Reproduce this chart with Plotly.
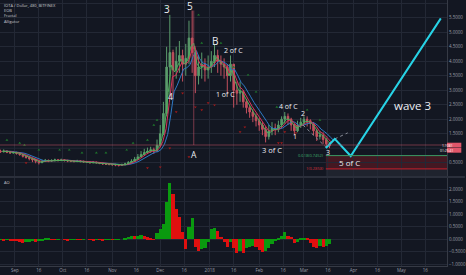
import plotly.graph_objects as go
import pandas as pd

# ---------------- data ----------------
start_date = "2017-08-23"
n_bars = 104
dates = pd.date_range(start_date, periods=n_bars, freq="2D")

closes = [0.88, 0.90, 0.86, 0.84, 0.85, 0.82, 0.78, 0.72, 0.68, 0.64,
          0.60, 0.55, 0.50, 0.55, 0.58, 0.56, 0.57, 0.60, 0.58, 0.60,
          0.58, 0.56, 0.55, 0.54, 0.56, 0.55, 0.53, 0.52, 0.50, 0.52,
          0.50, 0.48, 0.46, 0.45, 0.44, 0.43, 0.42, 0.41, 0.43, 0.46,
          0.50, 0.55, 0.62, 0.70, 0.78, 0.85, 0.90, 0.95, 0.90, 1.10,
          1.50, 2.20, 3.80, 4.30, 3.70, 4.00, 4.20, 3.90, 4.10, 4.80,
          4.30, 3.50, 3.80, 3.90, 3.70, 3.80, 4.00, 4.20, 4.00, 3.90,
          3.80, 3.50, 3.90, 3.00, 2.90, 2.95, 2.60, 2.40, 2.25, 2.10,
          1.95, 1.80, 1.65, 1.40, 1.60, 1.70, 1.65, 1.80, 2.00, 2.10,
          2.00, 1.80, 1.60, 1.80, 1.90, 2.00, 1.95, 1.85, 1.60, 1.40,
          1.45, 1.30, 1.15, 1.08]
highs = [0.95, 0.96, 0.93, 0.90, 0.90, 0.88, 0.85, 0.80, 0.74, 0.70,
         0.66, 0.62, 0.58, 0.60, 0.63, 0.61, 0.62, 0.64, 0.63, 0.64,
         0.62, 0.60, 0.59, 0.58, 0.60, 0.59, 0.57, 0.56, 0.55, 0.56,
         0.54, 0.52, 0.50, 0.49, 0.48, 0.47, 0.46, 0.45, 0.47, 0.50,
         0.56, 0.62, 0.70, 0.80, 0.90, 0.98, 1.02, 1.05, 1.02, 1.30,
         1.80, 2.60, 4.50, 5.60, 4.40, 4.50, 4.70, 4.40, 4.60, 5.40,
         5.75, 4.40, 4.20, 4.30, 4.10, 4.20, 4.35, 4.60, 4.40, 4.20,
         4.10, 3.90, 4.20, 3.90, 3.30, 3.30, 3.00, 2.70, 2.50, 2.35,
         2.20, 2.05, 1.90, 1.75, 1.80, 1.90, 1.85, 1.95, 2.10, 2.25,
         2.20, 2.05, 1.85, 1.95, 2.05, 2.10, 2.10, 2.00, 1.90, 1.65,
         1.60, 1.55, 1.35, 1.20]
lows = [0.84, 0.85, 0.83, 0.80, 0.81, 0.78, 0.74, 0.68, 0.64, 0.58,
        0.52, 0.48, 0.44, 0.49, 0.53, 0.52, 0.53, 0.55, 0.54, 0.55,
        0.54, 0.52, 0.52, 0.51, 0.52, 0.51, 0.50, 0.49, 0.47, 0.48,
        0.47, 0.45, 0.43, 0.42, 0.41, 0.40, 0.38, 0.37, 0.39, 0.41,
        0.45, 0.50, 0.55, 0.62, 0.70, 0.76, 0.80, 0.84, 0.80, 0.88,
        1.05, 1.45, 2.10, 2.80, 2.70, 3.40, 3.60, 3.30, 3.50, 3.90,
        3.60, 2.90, 3.20, 3.40, 3.30, 3.40, 3.60, 3.80, 3.60, 3.50,
        3.40, 2.90, 3.30, 2.40, 2.50, 2.60, 2.40, 2.20, 2.05, 1.90,
        1.75, 1.60, 1.45, 1.20, 1.30, 1.45, 1.45, 1.55, 1.70, 1.85,
        1.80, 1.60, 1.45, 1.55, 1.70, 1.80, 1.75, 1.65, 1.45, 1.25,
        1.30, 1.15, 1.02, 1.00]
first_open = 0.90
opens = [first_open] + closes[:-1]

ao_values = [-0.02, -0.03, -0.01, -0.03, -0.04, -0.08, -0.12, -0.15, -0.12, -0.10,
             -0.08, -0.10, -0.06, -0.03, 0.02, 0.03, 0.01, -0.02, 0.01, 0.00,
             -0.02, -0.03, -0.01, 0.01, -0.01, -0.02, 0.01, 0.00, -0.02, -0.03,
             -0.01, -0.02, -0.03, -0.02, -0.01, -0.02, -0.02, -0.01, 0.00, 0.05,
             0.10, 0.14, 0.12, 0.15, 0.17, 0.12, 0.08, 0.02, -0.02, 0.25,
             0.40, 0.60, 1.50, 2.25, 1.80, 1.20, 0.90, 0.30, -0.40, 0.50,
             0.85, -0.30, -0.45, -0.40, -0.35, -0.10, 0.40, 0.45, 0.35, 0.10,
             -0.10, -0.30, -0.10, -0.35, -0.55, -0.45, -0.55, -0.35, -0.30, -0.28,
             -0.30, -0.42, -0.50, -0.45, -0.35, -0.20, -0.05, 0.03, 0.15, 0.28,
             0.15, 0.10, -0.15, -0.10, 0.05, 0.07, 0.05, -0.15, -0.30, -0.35,
             -0.25, -0.30, -0.25, -0.20]

# fractal markers
frac_up_dates = ["2017-08-27", "2017-09-04", "2017-09-07", "2017-09-16", "2017-09-29",
                 "2017-10-05", "2017-10-13", "2017-10-22", "2017-10-28", "2017-11-10",
                 "2017-11-14", "2017-11-23", "2017-11-27", "2017-11-29", "2017-12-05",
                 "2017-12-25", "2017-12-27", "2018-01-08", "2018-01-16", "2018-01-25",
                 "2018-01-30", "2018-02-12", "2018-03-03", "2018-03-11"]
frac_up_prices = [1.28, 1.18, 1.11, 0.94, 0.94, 0.94, 0.84, 0.84, 0.84, 0.94,
                  1.18, 1.28, 1.80, 1.97, 5.85, 5.60, 4.63, 4.63, 3.80, 3.53,
                  2.94, 2.42, 2.32, 1.97]
frac_dn_dates = ["2017-09-08", "2017-11-23", "2017-12-01", "2017-12-07", "2017-12-11",
                 "2017-12-15", "2017-12-19", "2017-12-23", "2017-12-27", "2017-12-31",
                 "2018-01-04", "2018-01-20", "2018-01-23", "2018-02-13", "2018-02-15",
                 "2018-02-17", "2018-02-24"]
frac_dn_prices = [0.49, 0.32, 0.35, 1.00, 2.25, 2.90, 0.70, 2.42, 2.32, 2.56,
                  2.49, 1.56, 1.73, 1.18, 1.18, 1.56, 1.53]

# projection path (wave drawing)
proj_dates = ["2018-03-14 17:00", "2018-03-20 07:00", "2018-03-30 07:00", "2018-05-25 17:00"]
proj_prices = [1.01, 1.32, 0.73, 5.48]
dot1_dates = ["2018-02-28 10:00", "2018-03-14 17:00"]
dot1_prices = [1.80, 1.04]
dot2_dates = ["2018-03-20 07:00", "2018-03-28 10:00"]
dot2_prices = [1.32, 1.53]

fib_start = "2018-03-14 17:00"
fib_618 = 0.7452
fib_1 = 0.2858
last_price = 1.111
last_price_text = "1.1081"
countdown_text = "01:25:41"
vline_date = "2017-12-22 00:00"
vline_top = 5.75

wave_labels = ["3", "5", "4", "A", "B", "2 of C", "1 of C", "4 of C", "2", "1",
               "3 of C", "3", "5 of C", "wave 3"]
wave_dates = ["2017-12-05 03:00", "2017-12-19 17:00", "2017-12-07 03:00", "2017-12-22 10:00",
              "2018-01-04 12:00", "2018-01-15 22:00", "2018-01-11 02:00", "2018-02-19 02:00",
              "2018-02-28 10:00", "2018-02-23 07:00", "2018-02-08 17:00", "2018-03-16 00:00",
              "2018-03-29 12:00", "2018-05-07 19:00"]
wave_prices = [5.80, 5.90, 2.77, 0.79, 4.71, 4.37, 2.86, 2.43, 2.20, 1.40,
               0.94, 0.86, 0.50, 2.49]
wave_sizes = [10, 10, 8.5, 8.5, 10, 7, 7, 7, 7, 7, 7.5, 7, 8, 11.5]

price_ticks = [0.5, 1.5, 2.0, 2.5, 3.0, 3.5, 4.0, 4.5, 5.0, 5.5, 6.0]
hidden_grid_price = 1.0
ao_ticks = [-1.0, -0.5, 0.0, 0.5, 1.0, 1.5, 2.0]
month_ticks = ["2017-09-01", "2017-09-16", "2017-10-01", "2017-10-16", "2017-11-01",
               "2017-11-16", "2017-12-01", "2017-12-16", "2018-01-01", "2018-01-16",
               "2018-02-01", "2018-02-16", "2018-03-01", "2018-03-16", "2018-04-01",
               "2018-04-16", "2018-05-01", "2018-05-16"]
month_labels = ["Sep", "16", "Oct", "16", "Nov", "16", "Dec", "16", "2018", "16",
                "Feb", "16", "Mar", "16", "Apr", "16", "May", "16"]
legend_lines = ["IOTA / Dollar, 480, BITFINEX", "EOB", "Fractal", "Alligator"]

# ---------------- derived indicators ----------------
hl2 = (pd.Series(highs) + pd.Series(lows)) / 2
jaw = hl2.ewm(alpha=0.382, adjust=False).mean()
teeth = hl2.ewm(alpha=0.551, adjust=False).mean()
lips = hl2.ewm(alpha=0.738, adjust=False).mean()
ao_colors = []
for i, v in enumerate(ao_values):
    prev = ao_values[i - 1] if i > 0 else v
    ao_colors.append("#0a9a0f" if v >= prev else "#e0100f")

BG = "#131722"
GRID = "#232835"
TXT = "#9a9da6"
X_RANGE = ["2017-08-22 16:00", "2018-05-29 14:00"]

fig = go.Figure()

fig.add_trace(go.Candlestick(
    x=dates, open=opens, high=highs, low=lows, close=closes,
    increasing=dict(line=dict(color="#5b9c6c", width=1), fillcolor="#5b9c6c"),
    decreasing=dict(line=dict(color="#c4505e", width=1), fillcolor="#c4505e"),
    whiskerwidth=0, xaxis="x", yaxis="y", hoverinfo="skip"))

for series, shift_h, col in [(jaw, 64, "#2e79c4"), (teeth, 40, "#d8325a"), (lips, 24, "#4fae5a")]:
    fig.add_trace(go.Scatter(x=dates + pd.Timedelta(hours=shift_h), y=series, mode="lines",
                             line=dict(color=col, width=1), xaxis="x", yaxis="y"))

fig.add_trace(go.Scatter(x=frac_up_dates, y=frac_up_prices, mode="markers",
                         marker=dict(symbol="triangle-up", size=2.5, color="#1f7a2c"),
                         xaxis="x", yaxis="y"))
fig.add_trace(go.Scatter(x=frac_dn_dates, y=frac_dn_prices, mode="markers",
                         marker=dict(symbol="triangle-down", size=2.5, color="#a01a1a"),
                         xaxis="x", yaxis="y"))

fig.add_trace(go.Scatter(x=dot1_dates, y=dot1_prices, mode="lines",
                         line=dict(color="#8a8e99", width=1, dash="dot"), xaxis="x", yaxis="y"))
fig.add_trace(go.Scatter(x=dot2_dates, y=dot2_prices, mode="lines",
                         line=dict(color="#8a8e99", width=1, dash="dot"), xaxis="x", yaxis="y"))
fig.add_trace(go.Scatter(x=proj_dates, y=proj_prices, mode="lines",
                         line=dict(color="#27d3e6", width=2), xaxis="x", yaxis="y"))

fig.add_trace(go.Bar(x=dates, y=ao_values, marker=dict(color=ao_colors, line=dict(width=0)),
                     width=2 * 24 * 3600 * 1000, xaxis="x", yaxis="y2"))

shapes = []
# grid line hidden behind the price label
shapes.append(dict(type="line", xref="paper", yref="y", x0=0, x1=1, y0=hidden_grid_price,
                   y1=hidden_grid_price, line=dict(color=GRID, width=1), layer="below"))
# fib zone
shapes.append(dict(type="rect", xref="x", yref="y", x0=fib_start, x1=X_RANGE[1],
                   y0=fib_1, y1=fib_618, fillcolor="rgba(160,25,35,0.35)", line=dict(width=0), layer="below"))
shapes.append(dict(type="rect", xref="x", yref="y", x0=fib_start, x1=X_RANGE[1],
                   y0=0.0, y1=fib_1, fillcolor="rgba(120,125,140,0.12)", line=dict(width=0), layer="below"))
shapes.append(dict(type="line", xref="x", yref="y", x0=fib_start, x1=X_RANGE[1],
                   y0=fib_618, y1=fib_618, line=dict(color="#3a9a64", width=1)))
shapes.append(dict(type="line", xref="x", yref="y", x0=fib_start, x1=X_RANGE[1],
                   y0=fib_1, y1=fib_1, line=dict(color="#c8202c", width=1)))
# price line & vertical line
shapes.append(dict(type="line", xref="paper", yref="y", x0=0, x1=1, y0=last_price, y1=last_price,
                   line=dict(color="rgba(190,80,100,0.55)", width=1)))
shapes.append(dict(type="line", xref="x", yref="y", x0=vline_date, x1=vline_date, y0=last_price, y1=vline_top,
                   line=dict(color="rgba(190,80,100,0.6)", width=1)))
# pane separator
shapes.append(dict(type="rect", xref="paper", yref="paper", x0=0, x1=1.04, y0=0.3308, y1=0.3383,
                   fillcolor="#2b2f3b", line=dict(width=0)))
# last price label boxes
shapes.append(dict(type="rect", xref="paper", yref="y", x0=1.0, x1=1.032, y0=1.03, y1=1.19,
                   fillcolor="#e0566a", line=dict(width=0)))
shapes.append(dict(type="rect", xref="paper", yref="y", x0=1.0, x1=1.032, y0=0.845, y1=1.018,
                   fillcolor="#e0566a", line=dict(width=0)))

annotations = []
for t, d, p, s in zip(wave_labels, wave_dates, wave_prices, wave_sizes):
    annotations.append(dict(x=d, y=p, xref="x", yref="y", text=t, showarrow=False,
                            font=dict(family="Open Sans", size=s, color="#eceef2")))
annotations.append(dict(x=fib_start, y=fib_618, xref="x", yref="y", text="0.618(0.7452)",
                        showarrow=False, xanchor="right", font=dict(size=4, color="#3fae6c")))
annotations.append(dict(x=fib_start, y=fib_1, xref="x", yref="y", text="1(0.2858)",
                        showarrow=False, xanchor="right", font=dict(size=4, color="#d8303a")))
annotations.append(dict(x=1.016, y=1.11, xref="paper", yref="y", text=last_price_text,
                        showarrow=False, borderpad=0, font=dict(size=3.4, color="#ffffff")))
annotations.append(dict(x=1.016, y=0.93, xref="paper", yref="y", text=countdown_text,
                        showarrow=False, borderpad=0, font=dict(size=3.4, color="#ffffff")))
for k, line in enumerate(legend_lines):
    annotations.append(dict(x=0.005, y=1 - (5 + 5.4 * k) / 266, xref="paper", yref="paper",
                            text=line, showarrow=False, xanchor="left", yanchor="middle",
                            font=dict(size=4, color="#c9cbd1")))
annotations.append(dict(x=0.005, y=1 - 182.5 / 266, xref="paper", yref="paper", text="AO",
                        showarrow=False, xanchor="left", yanchor="middle",
                        font=dict(size=4, color="#c9cbd1")))

fig.update_layout(
    width=466, height=275, margin=dict(l=0, r=16, t=0, b=9),
    paper_bgcolor=BG, plot_bgcolor=BG, showlegend=False,
    font=dict(family="Open Sans", size=4.5, color=TXT),
    shapes=shapes, annotations=annotations, bargap=0,
    xaxis=dict(type="date", range=X_RANGE, anchor="y2", tickvals=month_ticks, ticktext=month_labels,
               showgrid=True, gridcolor=GRID, gridwidth=1, ticks="", zeroline=False,
               rangeslider=dict(visible=False), showline=True, linecolor="#363a45",
               tickfont=dict(size=4.5, color=TXT)),
    yaxis=dict(domain=[0.3383, 1], range=[0.041, 6.114], side="right", anchor="x",
               tickvals=price_ticks, tickformat=".4f", showgrid=True, gridcolor=GRID,
               zeroline=False, ticks="", showline=True, linecolor="#363a45",
               tickfont=dict(size=4.5, color=TXT)),
    yaxis2=dict(domain=[0, 0.3308], range=[-1.068, 2.452], side="right", anchor="x",
                tickvals=ao_ticks, tickformat=".4f", showgrid=True, gridcolor=GRID,
                zeroline=False, ticks="", showline=True, linecolor="#363a45",
                tickfont=dict(size=4.5, color=TXT)),
)

fig.write_html("out.html")
